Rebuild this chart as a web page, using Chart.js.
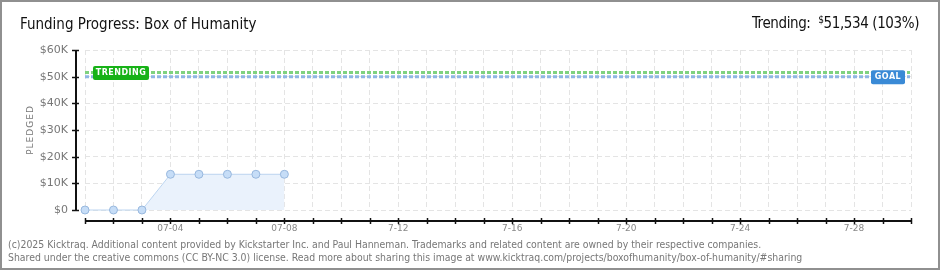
<!DOCTYPE html>
<html>
<head>
<meta charset="utf-8">
<script src="https://cdn.jsdelivr.net/npm/chart.js@4.4.1/dist/chart.umd.min.js"></script>
<style>
body { margin: 0; background: #fff; }
#wrap { position: relative; width: 940px; height: 270px; overflow: hidden; font-family: "DejaVu Sans Condensed", "DejaVu Sans", sans-serif; }
#wrap canvas { position: absolute; left: 0; top: 0; }
.frame { position: absolute; left: 0; top: 0; width: 936px; height: 266px; border: 2px solid #909090; pointer-events: none; }
.title { position: absolute; left: 20px; top: 15px; font-size: 15px; line-height: 18px; color: #111; white-space: nowrap; }
.trend { position: absolute; right: 21px; top: 11px; font-size: 15px; line-height: 18px; color: #111; white-space: nowrap; letter-spacing: -0.4px; }
.trend sup { font-size: 10px; vertical-align: 5px; }
.foot { position: absolute; left: 8px; font-size: 10.4px; line-height: 13px; color: #777; white-space: nowrap; }
</style>
</head>
<body>
<div id="wrap">
  <canvas id="chart" width="940" height="270"></canvas>
  <div class="title">Funding Progress: Box of Humanity</div>
  <div class="trend">Trending:&nbsp; <sup>$</sup>51,534 (103%)</div>
  <div class="foot" style="top:238px">(c)2025 Kicktraq. Additional content provided by Kickstarter Inc. and Paul Hanneman. Trademarks and related content are owned by their respective companies.</div>
  <div class="foot" style="top:251px">Shared under the creative commons (CC BY-NC 3.0) license. Read more about sharing this image at www.kicktraq.com/projects/boxofhumanity/box-of-humanity/#sharing</div>
  <div class="frame"></div>
</div>
<script>
// days on the x axis (07-01 .. 07-30)
let days = ['07-01','07-02','07-03','07-04','07-05','07-06','07-07','07-08','07-09','07-10',
            '07-11','07-12','07-13','07-14','07-15','07-16','07-17','07-18','07-19','07-20',
            '07-21','07-22','07-23','07-24','07-25','07-26','07-27','07-28','07-29','07-30']
let xTickLabels = ['','','','07-04','','','','07-08','','',
                   '','7-12','','','','7-16','','','','7-20',
                   '','','','7-24','','','','7-28','','']
let pledged = [0, 0, 0, 13400, 13400, 13400, 13400, 13400]
let goal = 50000
let trending = 51534
let yTickLabels = ['$0','$10K','$20K','$30K','$40K','$50K','$60K']

// lines, labels and the offset axes
let kicktraq = {
    id: 'kicktraq',
    afterDatasetsDraw(chart){
        let ctx = chart.ctx
        let area = chart.chartArea
        let xs = chart.scales.x
        let ys = chart.scales.y

        ctx.save()
        // goal + trending lines
        let trendY = ys.getPixelForValue(trending)
        let goalY = ys.getPixelForValue(goal)
        ctx.lineWidth = 3
        ctx.setLineDash([4, 2])
        ctx.strokeStyle = '#7fd27f'
        ctx.beginPath(); ctx.moveTo(area.left, trendY); ctx.lineTo(area.right - 1, trendY); ctx.stroke()
        ctx.strokeStyle = '#8fb6e4'
        ctx.beginPath(); ctx.moveTo(area.left, goalY); ctx.lineTo(area.right - 1, goalY); ctx.stroke()
        ctx.setLineDash([])

        // label boxes
        ctx.font = 'bold 8px "DejaVu Sans"'
        ctx.textAlign = 'center'
        ctx.textBaseline = 'middle'
        let tx = xs.getPixelForValue(0) + 8
        ctx.fillStyle = '#17b217'
        ctx.beginPath(); ctx.roundRect(tx, trendY - 6.5, 56, 14, 2); ctx.fill()
        ctx.fillStyle = '#fff'
        ctx.letterSpacing = '0.5px'
        ctx.fillText('TRENDING', tx + 28, trendY + 0.5)

        let gx = area.right - 6 - 34
        ctx.fillStyle = '#3a8ad6'
        ctx.beginPath(); ctx.roundRect(gx, goalY - 6.5, 34, 14, 2); ctx.fill()
        ctx.fillStyle = '#fff'
        ctx.fillText('GOAL', gx + 17, goalY + 0.5)
        ctx.letterSpacing = '0px'

        // y axis, shifted left of the plot
        let axX = area.left - 9
        let zeroY = ys.getPixelForValue(0)
        ctx.strokeStyle = '#111'
        ctx.lineWidth = 2
        ctx.beginPath(); ctx.moveTo(axX, area.top); ctx.lineTo(axX, zeroY + 1); ctx.stroke()
        ys.ticks.forEach(function(t){
            let y = Math.round(ys.getPixelForValue(t.value)) + 0.5
            ctx.lineWidth = 1.5
            if(t.value % 10000 === 0){
                ctx.strokeStyle = '#111'
                ctx.beginPath(); ctx.moveTo(axX - 4, y); ctx.lineTo(axX + 3, y); ctx.stroke()
            } else {
                ctx.strokeStyle = '#e00000'
                ctx.beginPath(); ctx.moveTo(axX - 4, y); ctx.lineTo(axX, y); ctx.stroke()
            }
        })

        // x axis, shifted below the plot
        let axY = area.bottom + 11
        ctx.strokeStyle = '#111'
        ctx.lineWidth = 2
        ctx.beginPath(); ctx.moveTo(area.left, axY); ctx.lineTo(area.right, axY); ctx.stroke()
        ctx.lineWidth = 1.5
        days.forEach(function(d, i){
            let x = Math.round(xs.getPixelForValue(i)) + 0.5
            ctx.beginPath(); ctx.moveTo(x, axY - 3); ctx.lineTo(x, axY + 3); ctx.stroke()
        })

        // y title
        ctx.translate(31, (area.top + area.bottom) / 2)
        ctx.rotate(-Math.PI / 2)
        ctx.font = '9px "DejaVu Sans"'
        ctx.letterSpacing = '1px'
        ctx.fillStyle = '#777'
        ctx.fillText('PLEDGED', 0, 0)
        ctx.restore()
    }
}

let ctx = document.getElementById('chart').getContext('2d')
let myChart = new Chart(ctx, {
    type: 'line',
    data: {
        labels: days,
        datasets: [{
            label: 'Pledged',
            data: pledged,
            fill: 'origin',
            clip: false,
            backgroundColor: '#eaf2fc',
            borderColor: '#bcd5f0',
            borderWidth: 1,
            tension: 0,
            pointRadius: 4,
            pointBackgroundColor: '#c6ddf7',
            pointBorderColor: '#98b8de',
            pointBorderWidth: 1
        }]
    },
    options: {
        responsive: false,
        animation: false,
        layout: { padding: { top: 50, right: 29, left: 0, bottom: 0 } },
        plugins: {
            legend: { display: false },
            tooltip: { enabled: false }
        },
        scales: {
            x: {
                type: 'category',
                offset: false,
                grid: { color: '#e4e4e4', lineWidth: 1, drawTicks: false },
                border: { display: false, dash: [5, 3] },
                ticks: {
                    autoSkip: false,
                    maxRotation: 0,
                    padding: 13,
                    color: '#888',
                    font: { family: '"DejaVu Sans"', size: 9 },
                    callback: function(v, i){ return xTickLabels[i] }
                },
                afterFit: function(s){ s.height = 60 }
            },
            y: {
                min: 0,
                max: 60000,
                grid: {
                    color: function(c){ return c.tick.value % 10000 === 0 ? '#e4e4e4' : 'rgba(0,0,0,0)' },
                    lineWidth: 1,
                    drawTicks: false
                },
                border: { display: false, dash: [5, 3] },
                ticks: {
                    stepSize: 5000,
                    padding: 17,
                    color: '#777',
                    font: { family: '"DejaVu Sans"', size: 11 },
                    callback: function(v){ return v % 10000 === 0 ? yTickLabels[v / 10000] : '' }
                },
                afterFit: function(s){ s.width = 85 }
            }
        }
    },
    plugins: [kicktraq]
});
</script>
</body>
</html>
